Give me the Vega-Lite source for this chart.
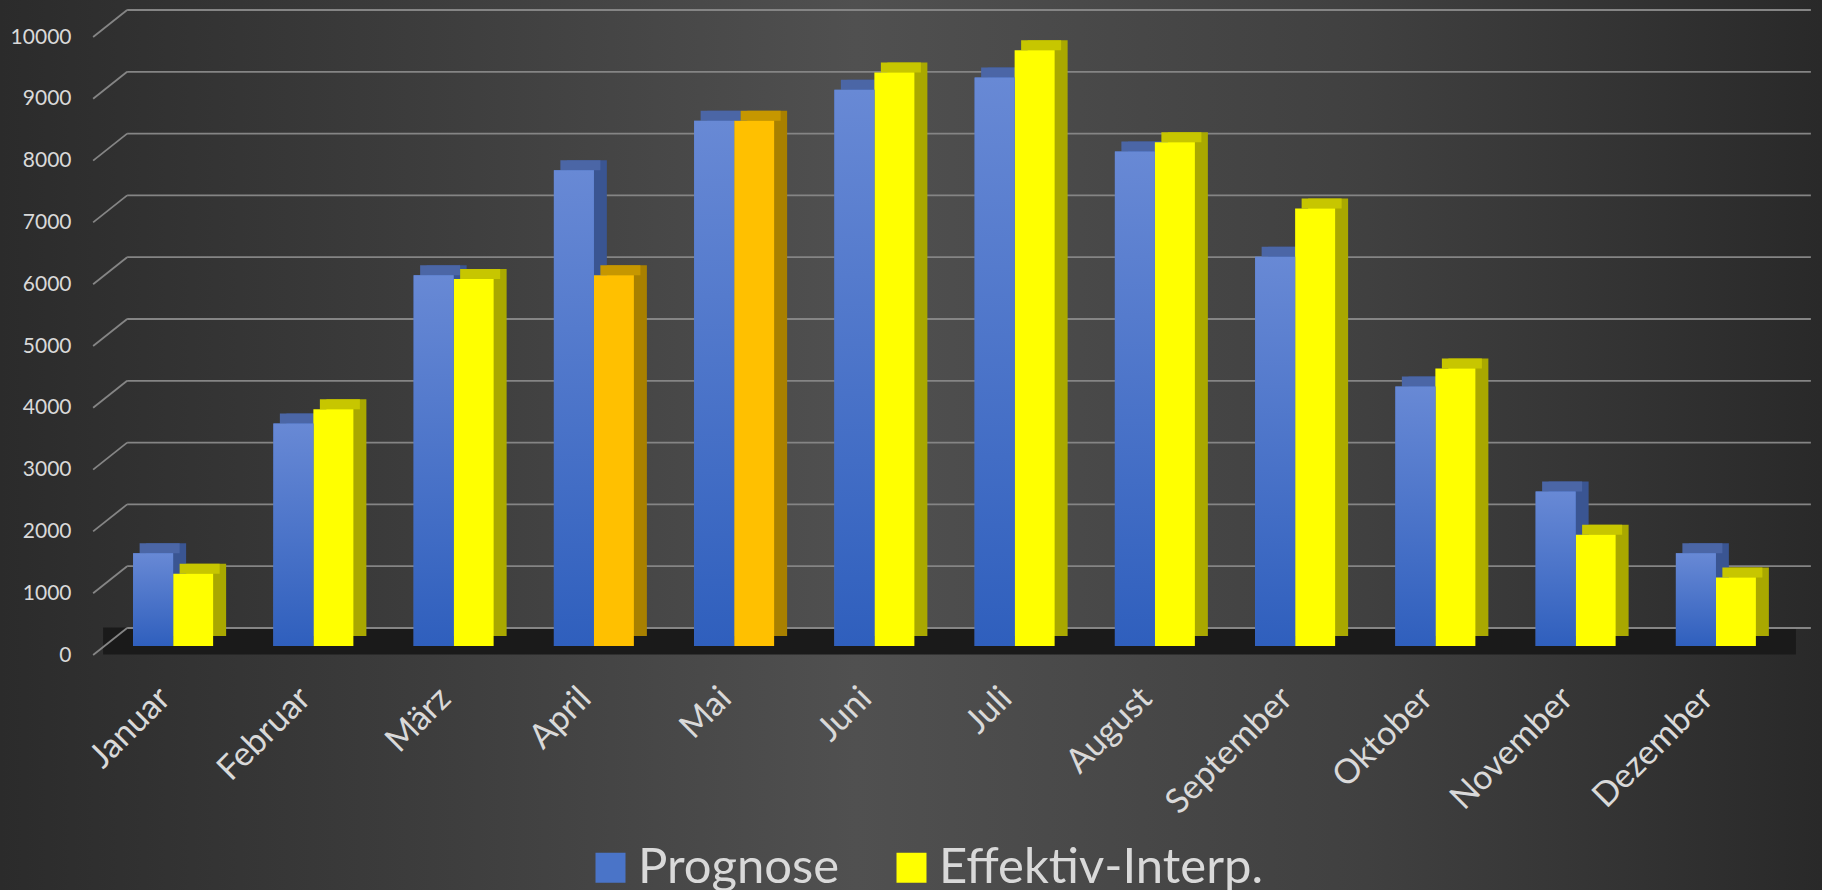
{
  "$schema": "https://vega.github.io/schema/vega-lite/v6.json",
  "width": 1822,
  "height": 890,
  "autosize": {"type": "none"},
  "padding": 0,
  "background": "#3a3a3a",
  "config": {
    "view": {
      "stroke": null,
      "fill": {
        "gradient": "linear",
        "x1": 0, "y1": 0.5, "x2": 1, "y2": 0.5,
        "stops": [
          {"offset": 0, "color": "#2b2b2b"},
          {"offset": 0.25, "color": "#3e3e3e"},
          {"offset": 0.47, "color": "#505050"},
          {"offset": 0.75, "color": "#404040"},
          {"offset": 1, "color": "#292929"}
        ]
      }
    },
    "font": "Lato"
  },
  "datasets": {
    "monate": [
      {"monat": "Januar", "serie": "Prognose", "art": "Prognose", "wert": 1500},
      {"monat": "Januar", "serie": "Effektiv-Interp.", "art": "Effektiv-Interp.", "wert": 1170},
      {"monat": "Februar", "serie": "Prognose", "art": "Prognose", "wert": 3600},
      {"monat": "Februar", "serie": "Effektiv-Interp.", "art": "Effektiv-Interp.", "wert": 3830},
      {"monat": "März", "serie": "Prognose", "art": "Prognose", "wert": 6000},
      {"monat": "März", "serie": "Effektiv-Interp.", "art": "Effektiv-Interp.", "wert": 5940},
      {"monat": "April", "serie": "Prognose", "art": "Prognose", "wert": 7700},
      {"monat": "April", "serie": "Effektiv-Interp.", "art": "Effektiv", "wert": 6000},
      {"monat": "Mai", "serie": "Prognose", "art": "Prognose", "wert": 8500},
      {"monat": "Mai", "serie": "Effektiv-Interp.", "art": "Effektiv", "wert": 8500},
      {"monat": "Juni", "serie": "Prognose", "art": "Prognose", "wert": 9000},
      {"monat": "Juni", "serie": "Effektiv-Interp.", "art": "Effektiv-Interp.", "wert": 9280},
      {"monat": "Juli", "serie": "Prognose", "art": "Prognose", "wert": 9200},
      {"monat": "Juli", "serie": "Effektiv-Interp.", "art": "Effektiv-Interp.", "wert": 9640},
      {"monat": "August", "serie": "Prognose", "art": "Prognose", "wert": 8000},
      {"monat": "August", "serie": "Effektiv-Interp.", "art": "Effektiv-Interp.", "wert": 8150},
      {"monat": "September", "serie": "Prognose", "art": "Prognose", "wert": 6300},
      {"monat": "September", "serie": "Effektiv-Interp.", "art": "Effektiv-Interp.", "wert": 7080},
      {"monat": "Oktober", "serie": "Prognose", "art": "Prognose", "wert": 4200},
      {"monat": "Oktober", "serie": "Effektiv-Interp.", "art": "Effektiv-Interp.", "wert": 4490},
      {"monat": "November", "serie": "Prognose", "art": "Prognose", "wert": 2500},
      {"monat": "November", "serie": "Effektiv-Interp.", "art": "Effektiv-Interp.", "wert": 1800},
      {"monat": "Dezember", "serie": "Prognose", "art": "Prognose", "wert": 1500},
      {"monat": "Dezember", "serie": "Effektiv-Interp.", "art": "Effektiv-Interp.", "wert": 1110}
    ],
    "raster": [
      {"v": 0}, {"v": 1000}, {"v": 2000}, {"v": 3000}, {"v": 4000}, {"v": 5000},
      {"v": 6000}, {"v": 7000}, {"v": 8000}, {"v": 9000}, {"v": 10000}
    ],
    "boden": [{"v": 0}]
  },
  "layer": [
    {
      "data": {"name": "boden"},
      "mark": {"type": "rule", "color": "#1a1a1a", "strokeWidth": 27, "strokeCap": "butt", "yOffset": -5, "y2Offset": -5, "xOffset": -70, "x2Offset": 80},
      "encoding": {
        "x": {"datum": "Januar", "type": "nominal", "scale": {"type": "band"}},
        "x2": {"datum": "Dezember"},
        "y": {"field": "v", "type": "quantitative", "scale": {"domain": [0, 10000], "range": [646, 28], "nice": false}}
      }
    },
    {
      "data": {"name": "raster"},
      "mark": {"type": "rule", "color": "#858585", "strokeWidth": 1.8, "xOffset": -80, "x2Offset": -46, "yOffset": 9, "y2Offset": -18},
      "encoding": {
        "x": {"datum": "Januar", "type": "nominal", "scale": {"type": "band"}},
        "x2": {"datum": "Januar"},
        "y": {"field": "v", "type": "quantitative"},
        "y2": {"field": "v"}
      }
    },
    {
      "data": {"name": "raster"},
      "mark": {"type": "rule", "color": "#858585", "strokeWidth": 1.8, "xOffset": -46, "x2Offset": 95, "yOffset": -18},
      "encoding": {
        "x": {"datum": "Januar", "type": "nominal", "scale": {"type": "band"}},
        "x2": {"datum": "Dezember"},
        "y": {"field": "v", "type": "quantitative"}
      }
    },
    {
      "data": {"name": "monate"},
      "transform": [{"filter": "datum.serie === 'Prognose'"}],
      "mark": {"type": "bar", "width": 40, "xOffset": -7, "yOffset": -10, "y2Offset": -10, "fill": "#3a5592"},
      "encoding": {
        "x": {"field": "monat", "type": "nominal", "sort": null, "scale": {"type": "band"}},
        "y": {"field": "wert", "type": "quantitative"}
      }
    },
    {
      "data": {"name": "monate"},
      "transform": [{"filter": "datum.serie !== 'Prognose'"}],
      "mark": {"type": "bar", "width": 40, "xOffset": 33, "yOffset": -10, "y2Offset": -10},
      "encoding": {
        "x": {"field": "monat", "type": "nominal", "sort": null, "scale": {"type": "band"}},
        "y": {"field": "wert", "type": "quantitative"},
        "fill": {
          "condition": {"test": "datum.art === 'Effektiv'", "value": "#a88000"},
          "value": "#a9a800"
        }
      }
    },
    {
      "data": {"name": "monate"},
      "transform": [{"filter": "datum.serie === 'Prognose'"}],
      "mark": {"type": "tick", "thickness": 10, "size": 40, "xOffset": -13.5, "yOffset": -5, "color": "#4b66a6", "opacity": 1},
      "encoding": {
        "x": {"field": "monat", "type": "nominal", "sort": null, "scale": {"type": "band"}},
        "y": {"field": "wert", "type": "quantitative"}
      }
    },
    {
      "data": {"name": "monate"},
      "transform": [{"filter": "datum.serie !== 'Prognose'"}],
      "mark": {"type": "tick", "thickness": 10, "size": 40, "xOffset": 26.5, "yOffset": -5, "opacity": 1},
      "encoding": {
        "x": {"field": "monat", "type": "nominal", "sort": null, "scale": {"type": "band"}},
        "y": {"field": "wert", "type": "quantitative"},
        "color": {
          "condition": {"test": "datum.art === 'Effektiv'", "value": "#c69700"},
          "value": "#c7c600"
        }
      }
    },
    {
      "data": {"name": "monate"},
      "transform": [{"filter": "datum.serie !== 'Prognose'"}],
      "mark": {"type": "bar", "width": 40, "xOffset": 20},
      "encoding": {
        "x": {"field": "monat", "type": "nominal", "sort": null, "scale": {"type": "band"}},
        "y": {"field": "wert", "type": "quantitative"},
        "color": {"field": "art", "type": "nominal"}
      }
    },
    {
      "data": {"name": "monate"},
      "transform": [{"filter": "datum.serie === 'Prognose'"}],
      "mark": {"type": "bar", "width": 40, "xOffset": -20},
      "encoding": {
        "x": {
          "field": "monat", "type": "nominal", "sort": null,
          "scale": {
            "type": "band",
            "domain": ["Januar", "Februar", "März", "April", "Mai", "Juni", "Juli", "August", "September", "Oktober", "November", "Dezember"],
            "range": [103, 1786],
            "paddingInner": 0.43,
            "paddingOuter": 0.215
          },
          "axis": {
            "title": null,
            "orient": "bottom",
            "offset": -209,
            "domain": false,
            "ticks": false,
            "tickSize": 0,
            "grid": false,
            "labelAngle": -45,
            "labelAlign": "right",
            "labelBaseline": "top",
            "labelPadding": 0,
            "labelOffset": -20,
            "labelFont": "Lato",
            "labelFontSize": 34,
            "labelColor": "#d9d9d9",
            "labelOverlap": false
          }
        },
        "y": {
          "field": "wert", "type": "quantitative",
          "axis": {
            "title": null,
            "orient": "left",
            "offset": -76,
            "domain": false,
            "ticks": false,
            "tickSize": 0,
            "grid": false,
            "values": [0, 1000, 2000, 3000, 4000, 5000, 6000, 7000, 8000, 9000, 10000],
            "format": "d",
            "labelPadding": 5,
            "labelOffset": 9,
            "labelFont": "Lato",
            "labelFontSize": 21,
            "labelColor": "#d9d9d9"
          }
        },
        "color": {
          "field": "art", "type": "nominal",
          "scale": {"domain": ["Prognose", "Effektiv-Interp.", "Effektiv"], "range": ["#4a74c8", "#ffff00", "#ffc000"]},
          "legend": {
            "title": null,
            "values": ["Prognose", "Effektiv-Interp."],
            "orient": "none",
            "legendX": 586,
            "legendY": 843,
            "direction": "horizontal",
            "padding": 0,
            "symbolType": "square",
            "symbolSize": 900,
            "symbolStrokeWidth": 0,
            "symbolOpacity": 1,
            "labelFont": "Lato",
            "labelFontSize": 49,
            "labelColor": "#d9d9d9",
            "labelOffset": 3,
            "columnPadding": 47,
            "labelLimit": 600
          }
        }
      }
    },
    {
      "data": {"name": "monate"},
      "transform": [{"filter": "datum.serie === 'Prognose'"}],
      "mark": {
        "type": "bar", "width": 40, "xOffset": -20,
        "fill": {
          "gradient": "linear",
          "x1": 0, "y1": 0, "x2": 0, "y2": 1,
          "stops": [
            {"offset": 0, "color": "#6889d5"},
            {"offset": 1, "color": "#2f5fbd"}
          ]
        }
      },
      "encoding": {
        "x": {"field": "monat", "type": "nominal", "sort": null, "scale": {"type": "band"}},
        "y": {"field": "wert", "type": "quantitative"}
      }
    }
  ]
}
